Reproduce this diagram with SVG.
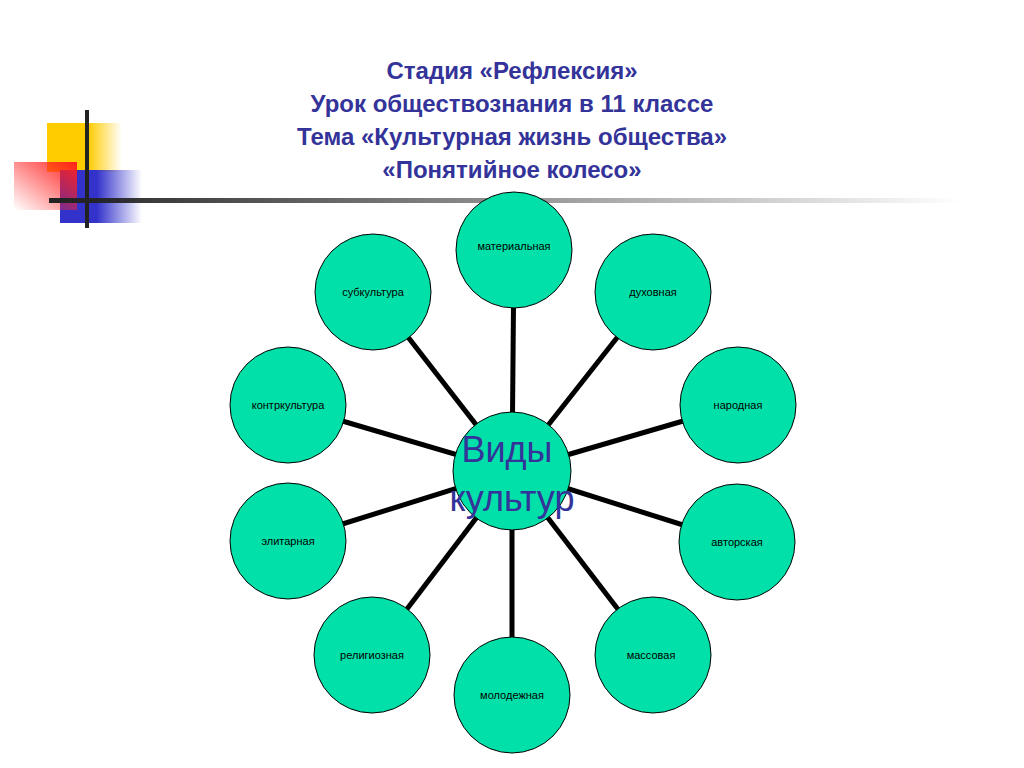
<svg xmlns="http://www.w3.org/2000/svg" width="1024" height="768" viewBox="0 0 1024 768">
<defs>
<linearGradient id="yg" x1="0" x2="1"><stop offset="0.55" stop-color="#ffcc00"/><stop offset="1" stop-color="#ffcc00" stop-opacity="0"/></linearGradient>
<linearGradient id="bg" x1="0" x2="1"><stop offset="0.45" stop-color="#3333cc"/><stop offset="1" stop-color="#3333cc" stop-opacity="0"/></linearGradient>
<linearGradient id="rg" x1="1" y1="0" x2="0" y2="1"><stop offset="0" stop-color="#ff2020"/><stop offset="1" stop-color="#ff2020" stop-opacity="0"/></linearGradient>
<linearGradient id="lg" x1="0" x2="1"><stop offset="0" stop-color="#222"/><stop offset="1" stop-color="#222" stop-opacity="0"/></linearGradient>
<style>
.t{font-family:"Liberation Sans",Arial,sans-serif;font-weight:bold;font-size:24px;fill:#333399;text-anchor:middle}
.n circle{fill:#00e0a8;stroke:#000;stroke-width:1}
.n text{font-family:"Liberation Sans",Arial,sans-serif;font-size:11px;fill:#000;text-anchor:middle}
#connectors line{stroke:#000;stroke-width:5}
</style>
</defs>
<rect width="1024" height="768" fill="#fff"/>
<rect x="47" y="123" width="75" height="49" fill="url(#yg)"/>
<rect x="60" y="170" width="82" height="53" fill="url(#bg)"/>
<rect x="14" y="162" width="63" height="48" fill="url(#rg)"/>
<rect x="49" y="198" width="911" height="5" fill="url(#lg)"/>
<line x1="87" y1="110" x2="87" y2="228" stroke="#222" stroke-width="4"/>
<text class="t" x="512" y="79">Стадия «Рефлексия»</text>
<text class="t" x="512" y="112">Урок обществознания в 11 классе</text>
<text class="t" x="512" y="145">Тема «Культурная жизнь общества»</text>
<text class="t" x="512" y="178">«Понятийное колесо»</text>
<g id="connectors">
<line x1="512" y1="471" x2="514" y2="250"/>
<line x1="512" y1="471" x2="653" y2="292"/>
<line x1="512" y1="471" x2="738" y2="405"/>
<line x1="512" y1="471" x2="737" y2="542"/>
<line x1="512" y1="471" x2="653" y2="655"/>
<line x1="512" y1="471" x2="512" y2="695"/>
<line x1="512" y1="471" x2="372" y2="655"/>
<line x1="512" y1="471" x2="288" y2="541"/>
<line x1="512" y1="471" x2="288" y2="405"/>
<line x1="512" y1="471" x2="373" y2="292"/>
</g>
<g id="n1" class="n"><circle cx="514" cy="250" r="58"/><text x="514" y="250">материальная</text></g>
<g id="n2" class="n"><circle cx="653" cy="292" r="58"/><text x="653" y="296">духовная</text></g>
<g id="n3" class="n"><circle cx="738" cy="405" r="58"/><text x="738" y="409">народная</text></g>
<g id="n4" class="n"><circle cx="737" cy="542" r="58"/><text x="737" y="546">авторская</text></g>
<g id="n5" class="n"><circle cx="653" cy="655" r="58"/><text x="651" y="659">массовая</text></g>
<g id="n6" class="n"><circle cx="512" cy="695" r="58"/><text x="512" y="699">молодежная</text></g>
<g id="n7" class="n"><circle cx="372" cy="655" r="58"/><text x="372" y="659">религиозная</text></g>
<g id="n8" class="n"><circle cx="288" cy="541" r="58"/><text x="288" y="545">элитарная</text></g>
<g id="n9" class="n"><circle cx="288" cy="405" r="58"/><text x="288" y="409">контркультура</text></g>
<g id="n10" class="n"><circle cx="373" cy="292" r="58"/><text x="373" y="296">субкультура</text></g>
<g id="center" class="n"><circle cx="512" cy="471" r="59"/>
<text x="507" y="462" style="font-size:36px;fill:#333399">Виды</text>
<text x="512" y="511" style="font-size:36px;fill:#333399">культур</text></g>
</svg>
